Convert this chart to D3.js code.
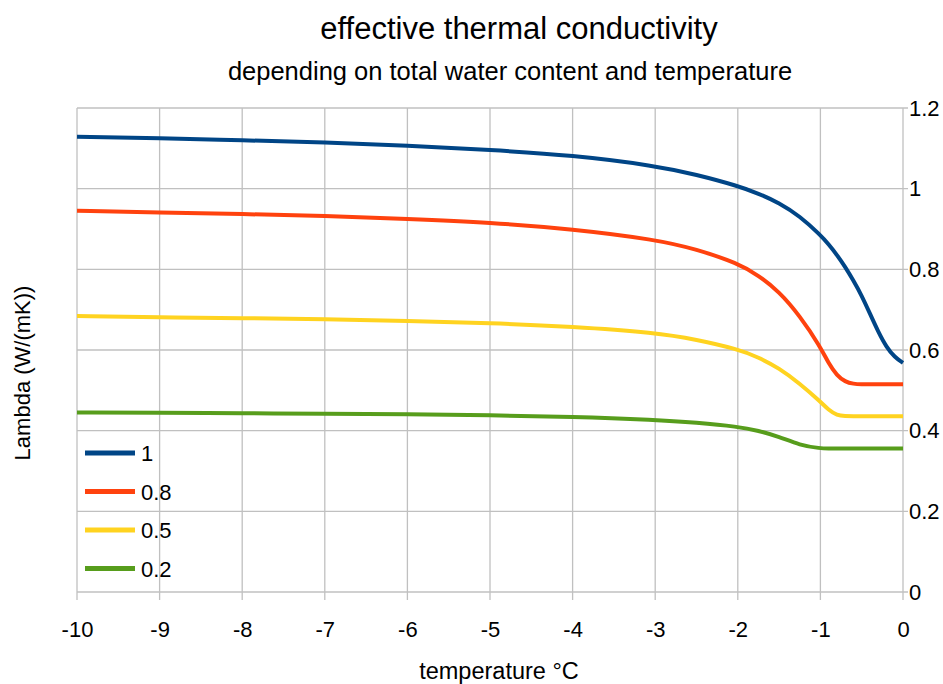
<!DOCTYPE html>
<html>
<head>
<meta charset="utf-8">
<script src="https://cdn.jsdelivr.net/npm/d3@7"></script>
<style>
  body { margin: 0; background: #fff; }
  text { font-family: "Liberation Sans", Arial, sans-serif; fill: #000; }
</style>
</head>
<body>
<svg id="chart"></svg>
<script>
const temps = [-10, -9, -8, -7, -6, -5, -4, -3, -2.5, -2, -1.75, -1.5, -1.25, -1, -0.9, -0.8, -0.7, -0.6, -0.5, -0.4, -0.3, -0.2, -0.1, 0];
const water1  = [1.129, 1.125, 1.120, 1.115, 1.107, 1.096, 1.083, 1.057, 1.035, 1.007, 0.988, 0.965, 0.932, 0.885, 0.862, 0.836, 0.806, 0.772, 0.735, 0.690, 0.645, 0.607, 0.582, 0.568];
const water08 = [0.945, 0.941, 0.937, 0.933, 0.925, 0.916, 0.900, 0.874, 0.850, 0.815, 0.785, 0.745, 0.685, 0.608, 0.566, 0.537, 0.521, 0.516, 0.515, 0.515, 0.515, 0.515, 0.515, 0.515];
const water05 = [0.684, 0.681, 0.679, 0.677, 0.672, 0.667, 0.658, 0.643, 0.626, 0.602, 0.582, 0.555, 0.517, 0.472, 0.451, 0.438, 0.436, 0.436, 0.436, 0.436, 0.436, 0.436, 0.436, 0.436];
const water02 = [0.445, 0.445, 0.443, 0.442, 0.441, 0.438, 0.435, 0.427, 0.420, 0.410, 0.400, 0.385, 0.364, 0.356, 0.356, 0.356, 0.356, 0.356, 0.356, 0.356, 0.356, 0.356, 0.356, 0.356];
const seriesNames = ["1", "0.8", "0.5", "0.2"];
const colors = ["#004586", "#ff420e", "#ffd320", "#579d1c"];
const xTicks = [-10, -9, -8, -7, -6, -5, -4, -3, -2, -1, 0];
const yTicks = [0, 0.2, 0.4, 0.6, 0.8, 1, 1.2];

const W = 943, H = 684;
const margin = { top: 108, right: 40, bottom: 92, left: 77 };
const width = 903 - margin.left;
const height = 592 - margin.top;

const svg = d3.select("#chart").attr("width", W).attr("height", H);

svg.append("text").attr("x", 519).attr("y", 39).attr("text-anchor", "middle")
  .style("font-size", "31px").text("effective thermal conductivity");
svg.append("text").attr("x", 510).attr("y", 80).attr("text-anchor", "middle")
  .style("font-size", "25.5px").text("depending on total water content and temperature");

const g = svg.append("g").attr("transform", `translate(${margin.left}, ${margin.top})`);

const x = d3.scaleLinear().domain([-10, 0]).range([0, width]);
const y = d3.scaleLinear().domain([0, 1.2]).range([height, 0]);

// grid
g.append("g").selectAll("line").data(xTicks).enter().append("line")
  .attr("x1", d => x(d)).attr("x2", d => x(d)).attr("y1", 0).attr("y2", height + 8)
  .attr("stroke", "#c0c0c0").attr("stroke-width", 1.3);
g.append("g").selectAll("line").data(yTicks).enter().append("line")
  .attr("x1", 0).attr("x2", width + 5).attr("y1", d => y(d)).attr("y2", d => y(d))
  .attr("stroke", "#c0c0c0").attr("stroke-width", 1.3);

// x axis labels
const xAxis = d3.axisBottom(x).tickValues(xTicks).tickSize(0).tickPadding(29).tickFormat(d => String(d));
const xg = g.append("g").attr("transform", `translate(0, ${height})`).call(xAxis);
xg.select(".domain").remove();
xg.selectAll("text").style("font-size", "22px").attr("fill", "#000");

// y axis on right
const yAxis = d3.axisRight(y).tickValues(yTicks).tickSize(0).tickPadding(6).tickFormat(d => String(d));
const yg = g.append("g").attr("transform", `translate(${width}, 0)`).call(yAxis);
yg.select(".domain").remove();
yg.selectAll("text").style("font-size", "22px").attr("fill", "#000");

svg.append("text").attr("x", 499).attr("y", 679).attr("text-anchor", "middle")
  .style("font-size", "23.5px").text("temperature °C");
svg.append("text").attr("transform", "translate(30, 373) rotate(-90)").attr("text-anchor", "middle")
  .style("font-size", "22px").text("Lambda (W/(mK))");

// curves
const series = [water1, water08, water05, water02];
const line = d3.line().x((d, i) => x(temps[i])).y(d => y(d)).curve(d3.curveBasis);
series.forEach((s, k) => {
  g.append("path").datum(s).attr("d", line)
    .attr("fill", "none").attr("stroke", colors[k]).attr("stroke-width", 4)
    .attr("stroke-linejoin", "round");
});

// legend
const legend = svg.append("g").attr("transform", "translate(85, 453)");
seriesNames.forEach((name, k) => {
  const row = legend.append("g").attr("transform", `translate(0, ${k * 38.5})`);
  row.append("line").attr("x1", 0).attr("x2", 50).attr("y1", 0).attr("y2", 0)
    .attr("stroke", colors[k]).attr("stroke-width", 5);
  row.append("text").attr("x", 56).attr("y", 8).style("font-size", "22px").text(name);
});
</script>
</body>
</html>
